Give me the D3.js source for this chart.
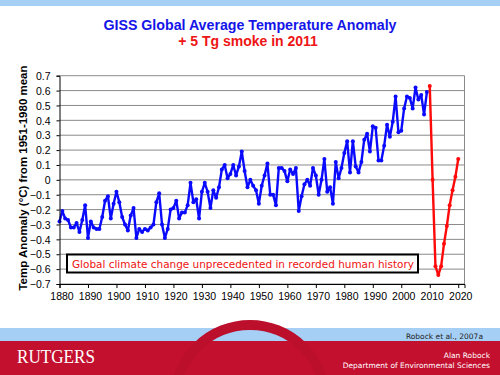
<!DOCTYPE html>
<html>
<head>
<meta charset="utf-8">
<script src="https://cdn.jsdelivr.net/npm/d3@7/dist/d3.min.js"></script>
<style>
  body { margin: 0; background: #fff; }
  svg { display: block; }
</style>
</head>
<body>
<svg width="500" height="375"></svg>
<script>
// GISS annual anomalies, 1880-2009 (deg C vs 1951-1980)
var blueStart = 1880;
var blueValues = [
  -0.28,-0.21,-0.26,-0.27,-0.32,-0.32,-0.29,-0.35,-0.27,-0.17,
  -0.39,-0.28,-0.32,-0.33,-0.33,-0.25,-0.14,-0.11,-0.26,-0.16,
  -0.08,-0.15,-0.25,-0.30,-0.34,-0.24,-0.19,-0.39,-0.33,-0.35,
  -0.33,-0.34,-0.32,-0.30,-0.15,-0.09,-0.30,-0.39,-0.33,-0.20,
  -0.19,-0.14,-0.26,-0.22,-0.22,-0.17,-0.02,-0.15,-0.13,-0.26,
  -0.08,-0.02,-0.08,-0.19,-0.07,-0.12,-0.05, 0.07, 0.10, 0.01,
   0.04, 0.10, 0.03, 0.09, 0.19, 0.06,-0.05, 0.00,-0.04,-0.07,
  -0.16,-0.04, 0.03, 0.11,-0.10,-0.10,-0.17, 0.08, 0.08, 0.06,
  -0.01, 0.07, 0.04, 0.08,-0.21,-0.11,-0.03, 0.00,-0.04, 0.08,
   0.03,-0.10, 0.00, 0.14,-0.08,-0.05,-0.16, 0.12, 0.01, 0.08,
   0.18, 0.26, 0.05, 0.26, 0.09, 0.05, 0.12, 0.27, 0.31, 0.19,
   0.36, 0.35, 0.13, 0.13, 0.23, 0.37, 0.29, 0.39, 0.56, 0.32,
   0.33, 0.48, 0.56, 0.55, 0.48, 0.62, 0.54, 0.57, 0.44, 0.59
];
// smoke scenario, 2010-2020
var redYears = [2010, 2011, 2012, 2013, 2014, 2015, 2016, 2017, 2018, 2019, 2020];
var redValues = [0.63, 0.00, -0.58, -0.64, -0.58, -0.43, -0.31, -0.17, -0.07, 0.02, 0.14];

var xTicks = [1880, 1890, 1900, 1910, 1920, 1930, 1940, 1950, 1960, 1970, 1980, 1990, 2000, 2010, 2020];
var yTicks = [0.7, 0.6, 0.5, 0.4, 0.3, 0.2, 0.1, 0, -0.1, -0.2, -0.3, -0.4, -0.5, -0.6, -0.7];

var blueData = blueValues.map(function(v, i) { return { year: blueStart + i, v: v }; });
var redData = redYears.map(function(y, i) { return { year: y, v: redValues[i] }; });

var svg = d3.select('svg');

// header / footer bands
svg.append('rect').attr('x', 0).attr('y', 0).attr('width', 500).attr('height', 6).attr('fill', '#a6cff6');
svg.append('rect').attr('x', 0).attr('y', 328).attr('width', 500).attr('height', 13).attr('fill', '#a6cff6');
svg.append('rect').attr('x', 0).attr('y', 341).attr('width', 500).attr('height', 34).attr('fill', '#c3102f');
svg.append('circle').attr('cx', 250).attr('cy', 400).attr('r', 75)
  .attr('fill', 'none').attr('stroke', '#bb0f2c').attr('stroke-width', 10);

// titles
svg.append('text').attr('x', 250).attr('y', 30).attr('text-anchor', 'middle')
  .attr('font-family', 'Liberation Sans, Arial, sans-serif').attr('font-weight', 'bold')
  .attr('font-size', 14.2).attr('fill', '#1515e8')
  .text('GISS Global Average Temperature Anomaly');
svg.append('text').attr('x', 248).attr('y', 46).attr('text-anchor', 'middle')
  .attr('font-family', 'Liberation Sans, Arial, sans-serif').attr('font-weight', 'bold')
  .attr('font-size', 14).attr('fill', '#ee1515')
  .text('+ 5 Tg smoke in 2011');

var x = d3.scaleLinear().domain([1880, 2022.2]).range([59.5, 464.5]);
var y = d3.scaleLinear().domain([-0.7, 0.7]).range([284, 75.7]);

var plot = svg.append('g');

// grid
plot.selectAll('line.grid').data(yTicks).enter().append('line')
  .attr('class', 'grid')
  .attr('x1', 59.5).attr('x2', 464.5)
  .attr('y1', function(d) { return y(d); }).attr('y2', function(d) { return y(d); })
  .attr('stroke', '#8a8a8a').attr('stroke-width', 1);

// frame right side
plot.append('line').attr('x1', 464.5).attr('x2', 464.5).attr('y1', 75.7).attr('y2', 284)
  .attr('stroke', '#8a8a8a');

// axes
var yAxis = d3.axisLeft(y).tickValues(yTicks).tickSize(3).tickPadding(6)
  .tickFormat(function(d) { return d === 0 ? '0' : d3.format('.1f')(d); });
var gy = svg.append('g').attr('transform', 'translate(59.5,0)').call(yAxis);
gy.select('.domain').attr('stroke', '#000');
gy.selectAll('text').attr('font-family', 'Liberation Sans, Arial, sans-serif')
  .attr('font-size', 10.5).attr('fill', '#000').attr('dy', '0.35em');

var xAxis = d3.axisBottom(x).tickValues(xTicks).tickSize(4).tickPadding(5)
  .tickFormat(d3.format('d'));
var gx = svg.append('g').attr('transform', 'translate(0,284)').call(xAxis);
gx.select('.domain').attr('stroke', '#000');
gx.selectAll('text').attr('font-family', 'Liberation Sans, Arial, sans-serif')
  .attr('font-size', 10.5).attr('fill', '#000').attr('dx', '2px');

// y label
svg.append('text')
  .attr('transform', 'translate(27,178) rotate(-90)')
  .attr('text-anchor', 'middle')
  .attr('font-family', 'Liberation Sans, Arial, sans-serif').attr('font-weight', 'bold')
  .attr('font-size', 11.5).attr('fill', '#000')
  .text('Temp Anomaly (\u00B0C) from 1951-1980 mean');

// series
var line = d3.line().x(function(d) { return x(d.year); }).y(function(d) { return y(d.v); });

function drawSeries(data, color) {
  plot.append('path').datum(data).attr('d', line)
    .attr('fill', 'none').attr('stroke', color).attr('stroke-width', 2.4)
    .attr('stroke-linejoin', 'round');
  plot.selectAll(null).data(data).enter().append('circle')
    .attr('cx', function(d) { return x(d.year); })
    .attr('cy', function(d) { return y(d.v); })
    .attr('r', 2).attr('fill', color);
}
drawSeries(blueData, '#0a0aff');
drawSeries(redData, '#ff0a0a');

// annotation box
svg.append('rect').attr('x', 67).attr('y', 254.5).attr('width', 351).attr('height', 18)
  .attr('fill', '#fff').attr('stroke', '#000').attr('stroke-width', 2);
svg.append('text').attr('x', 72).attr('y', 267.5)
  .attr('font-family', 'DejaVu Sans, sans-serif').attr('font-size', 11)
  .attr('fill', '#ee1111').attr('textLength', 342).attr('lengthAdjust', 'spacingAndGlyphs')
  .text('Global climate change unprecedented in recorded human history');

// footer texts
svg.append('text').attr('x', 483).attr('y', 339).attr('text-anchor', 'end')
  .attr('font-family', 'DejaVu Sans, sans-serif').attr('font-size', 7.5).attr('fill', '#222')
  .text('Robock et al., 2007a');
svg.append('text').attr('x', 17).attr('y', 363)
  .attr('font-family', 'Liberation Serif, serif').attr('font-size', 19).attr('fill', '#fff')
  .attr('textLength', 78).attr('lengthAdjust', 'spacingAndGlyphs')
  .text('RUTGERS');
svg.append('text').attr('x', 490).attr('y', 358).attr('text-anchor', 'end')
  .attr('font-family', 'DejaVu Sans, sans-serif').attr('font-size', 7.5).attr('fill', '#fff')
  .text('Alan Robock');
svg.append('text').attr('x', 490).attr('y', 368).attr('text-anchor', 'end')
  .attr('font-family', 'DejaVu Sans, sans-serif').attr('font-size', 7.5).attr('fill', '#fff')
  .text('Department of Environmental Sciences');
</script>
</body>
</html>
